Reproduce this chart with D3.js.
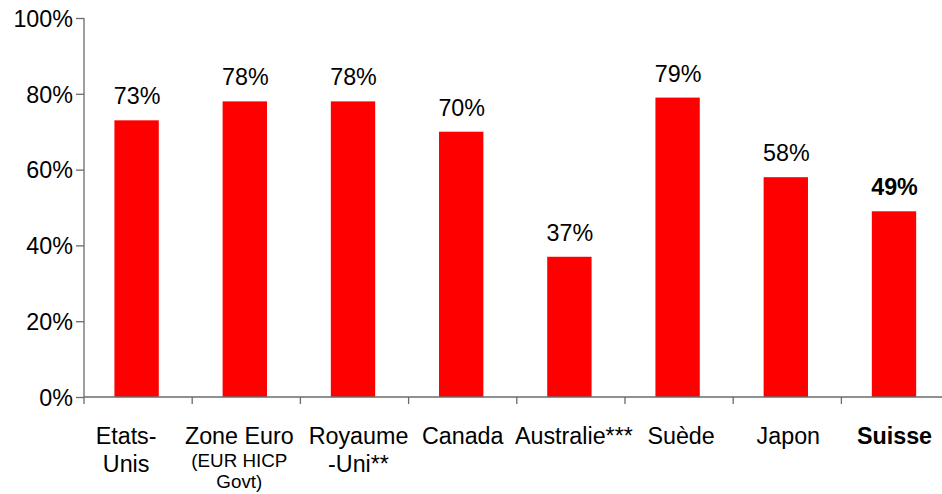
<!DOCTYPE html>
<html>
<head>
<meta charset="utf-8">
<script src="https://cdn.jsdelivr.net/npm/d3@7"></script>
<style>
  html, body { margin: 0; padding: 0; background: #fff; }
  svg { display: block; font-family: "Liberation Sans", Arial, sans-serif; }
</style>
</head>
<body>
<svg id="chart" width="942" height="494"></svg>
<script>
// Share values by country (percent)
const categories = ["Etats-Unis", "Zone Euro", "Royaume-Uni", "Canada", "Australie***", "Suède", "Japon", "Suisse"];
// Label lines under each bar: main lines, then an optional smaller note
const labelLines = [["Etats-", "Unis"], ["Zone Euro"], ["Royaume", "-Uni**"], ["Canada"], ["Australie***"], ["Suède"], ["Japon"], ["Suisse"]];
const labelNotes = [[], ["(EUR HICP", "Govt)"], [], [], [], [], [], []];
const values = [73, 78, 78, 70, 37, 79, 58, 49];
const highlighted = ["Suisse"];
const yTicks = [0, 20, 40, 60, 80, 100];

const svg = d3.select("#chart");
const x0 = 84, x1 = 949.6, yBottom = 397, yTop = 18;
const mainSize = 23.3;

const x = d3.scaleBand()
  .domain(categories)
  .range([x0, x1])
  .paddingInner(0.59)
  .paddingOuter(0.295);

const y = d3.scaleLinear().domain([0, 100]).range([yBottom, yTop]);

const axisColor = "#6b6b6b";

// Y axis
const yAxis = d3.axisLeft(y)
  .tickValues(yTicks)
  .tickSize(8)
  .tickPadding(3)
  .tickFormat(d => d + "%");
const gy = svg.append("g").attr("transform", `translate(${x0},0)`).call(yAxis);
gy.select(".domain").remove();
gy.selectAll(".tick line").attr("stroke", axisColor).attr("stroke-width", 1.3);
gy.selectAll(".tick text").attr("font-size", mainSize).attr("fill", "#000")
  .attr("font-family", "'Liberation Sans', Arial, sans-serif").attr("dy", "0.36em");
svg.append("line")
  .attr("x1", x0).attr("x2", x0).attr("y1", y(100)).attr("y2", yBottom + 7)
  .attr("stroke", axisColor).attr("stroke-width", 1.3);

// Bars
svg.append("g").selectAll("rect")
  .data(categories)
  .join("rect")
  .attr("x", d => x(d) - 1.5)
  .attr("y", (d, i) => y(values[i]))
  .attr("width", x.bandwidth())
  .attr("height", (d, i) => yBottom - y(values[i]))
  .attr("fill", "#ff0000");

// X axis line and category separators
svg.append("line")
  .attr("x1", x0).attr("x2", 942).attr("y1", yBottom).attr("y2", yBottom)
  .attr("stroke", axisColor).attr("stroke-width", 1.3);
const step = x.step();
svg.append("g").selectAll("line")
  .data(d3.range(1, categories.length + 1))
  .join("line")
  .attr("x1", i => x0 + i * step).attr("x2", i => x0 + i * step)
  .attr("y1", yBottom).attr("y2", yBottom + 7)
  .attr("stroke", axisColor).attr("stroke-width", 1.3);

// Value labels above bars
svg.append("g").selectAll("text")
  .data(categories)
  .join("text")
  .attr("x", d => x(d) + x.bandwidth() / 2 - 1)
  .attr("y", (d, i) => y(values[i]) - 16)
  .attr("text-anchor", "middle")
  .attr("font-size", mainSize)
  .attr("font-weight", d => highlighted.includes(d) ? "bold" : "normal")
  .attr("fill", "#000")
  .text((d, i) => values[i] + "%");

// Category labels; the first two wrap a little left of centre
const nudge = [-12, -7, 4, 0, 3, 2, 1, -1];
const labels = svg.append("g").selectAll("g")
  .data(categories)
  .join("g")
  .attr("transform", (d, i) => `translate(${x(d) + x.bandwidth() / 2 + nudge[i]},0)`);
labels.each(function(d, i) {
  const g = d3.select(this);
  labelLines[i].forEach((line, k) => {
    g.append("text")
      .attr("y", 444 + k * 27.5)
      .attr("text-anchor", "middle")
      .attr("font-size", mainSize)
      .attr("font-weight", highlighted.includes(d) ? "bold" : "normal")
      .attr("fill", "#000")
      .text(line);
  });
  labelNotes[i].forEach((line, k) => {
    g.append("text")
      .attr("y", 467 + k * 21)
      .attr("text-anchor", "middle")
      .attr("font-size", 18.8)
      .attr("fill", "#000")
      .text(line);
  });
});
</script>
</body>
</html>
